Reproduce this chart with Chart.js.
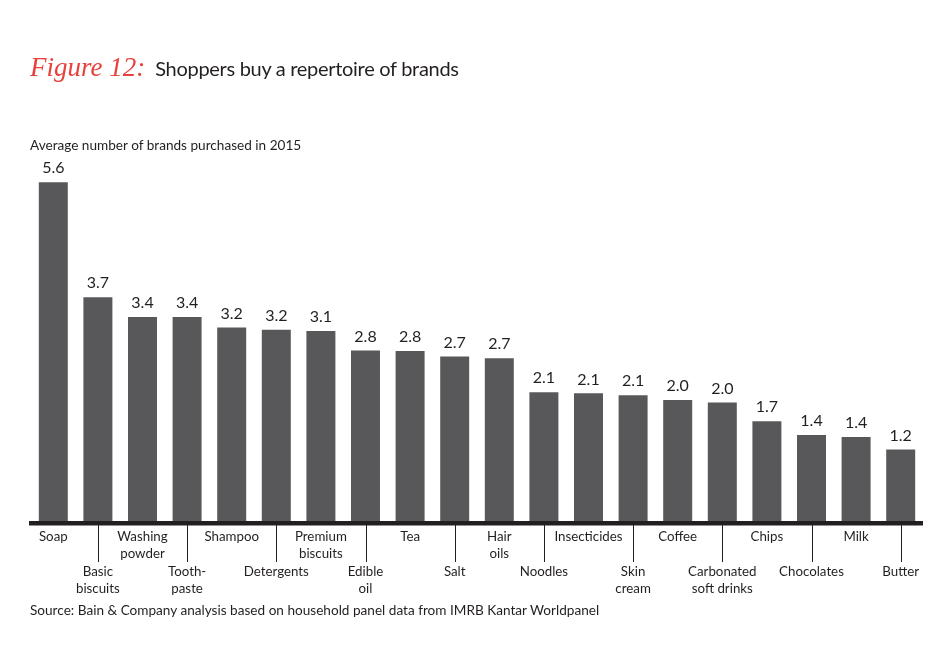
<!DOCTYPE html>
<html>
<head>
<meta charset="utf-8">
<script src="https://cdn.jsdelivr.net/npm/chart.js@4"></script>
<style>
  body { margin: 0; background: #fff; }
  #wrap { position: relative; width: 950px; height: 662px; }
  #myChart { position: absolute; left: 0; top: 0; }
  .title { position: absolute; left: 30px; top: 52px; font-family: Lato; font-size: 20px; letter-spacing: -0.3px; color: #231f20; white-space: nowrap; }
  .fig { font-family: "Liberation Serif"; font-style: italic; color: #e8413c; font-size: 27px; margin-right: 10px; letter-spacing: 0; }
  .sub { position: absolute; left: 30px; top: 137px; font: 13.6px Lato; color: #231f20; white-space: nowrap; }
  .src { position: absolute; left: 30px; top: 602px; font: 13.6px Lato; color: #231f20; white-space: nowrap; }
</style>
</head>
<body>
<div id="wrap">
  <canvas id="myChart" width="950" height="662"></canvas>
  <div class="title"><span class="fig">Figure 12:</span>Shoppers buy a repertoire of brands</div>
  <div class="sub">Average number of brands purchased in 2015</div>
  <div class="src">Source: Bain &amp; Company analysis based on household panel data from IMRB Kantar Worldpanel</div>
</div>
<script>
// data
const categories = [
  ['Soap'], ['Basic', 'biscuits'], ['Washing', 'powder'], ['Tooth-', 'paste'],
  ['Shampoo'], ['Detergents'], ['Premium', 'biscuits'], ['Edible', 'oil'],
  ['Tea'], ['Salt'], ['Hair', 'oils'], ['Noodles'], ['Insecticides'],
  ['Skin', 'cream'], ['Coffee'], ['Carbonated', 'soft drinks'], ['Chips'],
  ['Chocolates'], ['Milk'], ['Butter']
];
const values = [5.6, 3.7, 3.37, 3.37, 3.2, 3.16, 3.14, 2.82, 2.81, 2.72, 2.69,
                2.13, 2.11, 2.08, 2.0, 1.96, 1.65, 1.42, 1.39, 1.18];

// labels under the axis, staggered in two rows, plus value labels
const labelPlugin = {
  id: 'staggerLabels',
  afterDatasetsDraw(chart) {
    const ctx = chart.ctx;
    const xs = chart.scales.x;
    const area = chart.chartArea;
    const meta = chart.getDatasetMeta(0);
    ctx.save();
    ctx.fillStyle = '#231f20';
    ctx.font = '16px Lato';
    ctx.textAlign = 'center';
    ctx.textBaseline = 'bottom';
    meta.data.forEach(function (bar, i) {
      ctx.fillText((Math.round(values[i] * 10) / 10).toFixed(1), bar.x, bar.y - 6);
    });

    // axis line
    ctx.fillRect(area.left - 2, area.bottom, area.right - area.left + 2, 4.5);

    ctx.font = '13.3px Lato';
    ctx.textBaseline = 'middle';
    ctx.strokeStyle = '#231f20';
    ctx.lineWidth = 1;
    categories.forEach(function (lines, i) {
      const cx = xs.getPixelForValue(i);
      const odd = i % 2 === 1;
      if (odd) {
        ctx.beginPath();
        ctx.moveTo(Math.round(cx) + 0.5, area.bottom + 4);
        ctx.lineTo(Math.round(cx) + 0.5, area.bottom + 41);
        ctx.stroke();
      }
      const y0 = odd ? area.bottom + 51 : area.bottom + 16;
      lines.forEach(function (t, k) {
        ctx.fillText(t, cx, y0 + k * 17);
      });
    });
    ctx.restore();
  }
};

const data = {
  labels: categories.map(c => c.join(' ')),
  datasets: [{
    data: values,
    backgroundColor: '#58585a',
    barPercentage: 0.65,
    categoryPercentage: 1
  }]
};

const config = {
  type: 'bar',
  data,
  options: {
    responsive: false,
    animation: false,
    layout: { padding: { left: 31, right: 27, top: 158, bottom: 141 } },
    plugins: { legend: { display: false }, tooltip: { enabled: false } },
    scales: {
      x: { display: false },
      y: { display: false, min: 0, max: 6 }
    }
  },
  plugins: [labelPlugin]
};

const myChart = new Chart(document.getElementById('myChart'), config);
</script>
</body>
</html>
